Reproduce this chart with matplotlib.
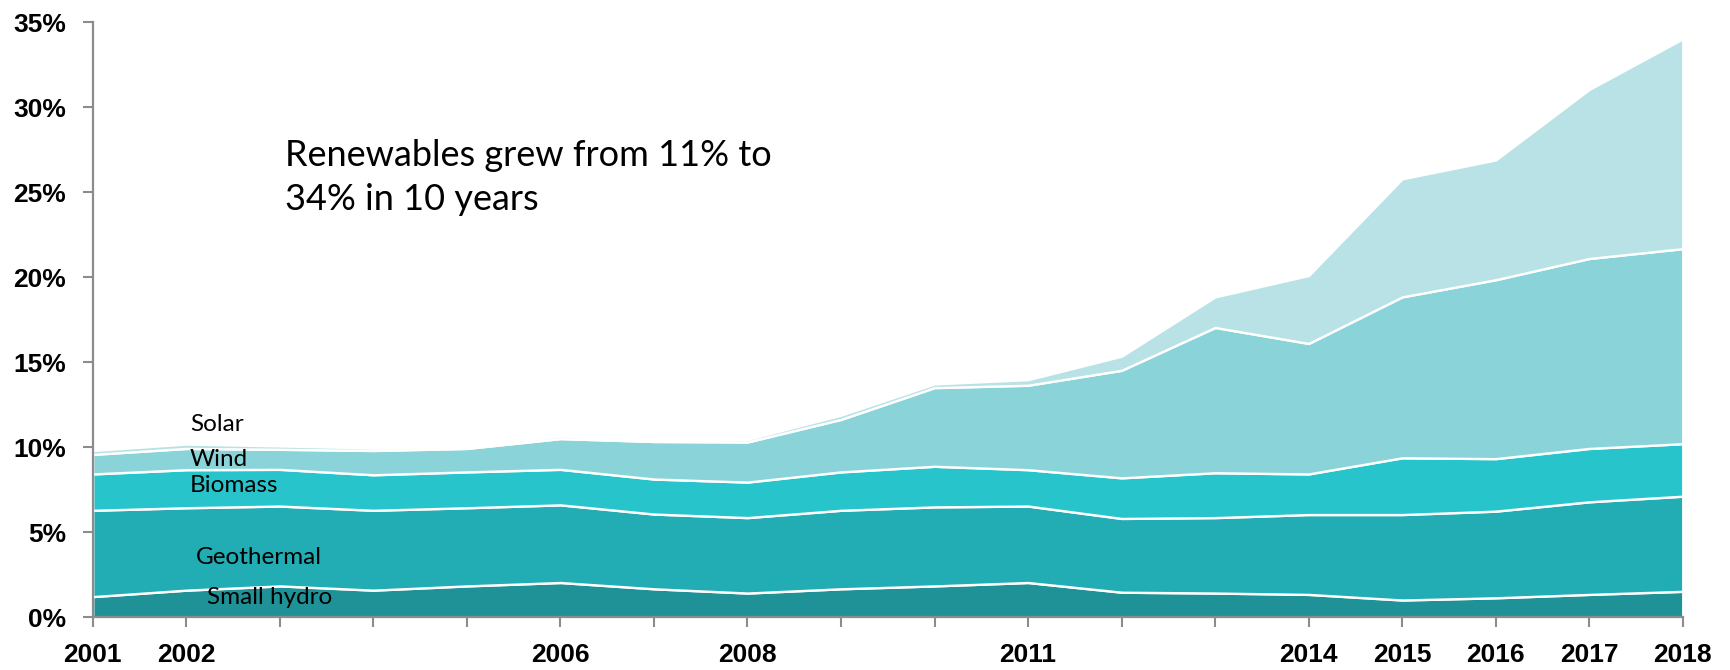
import matplotlib.pyplot as plt
from matplotlib.ticker import FuncFormatter

# share of renewables by source (%)
years = list(range(2001, 2019))
small_hydro = [1.20, 1.58, 1.83, 1.58, 1.83, 2.03, 1.66, 1.41, 1.66, 1.83, 2.03, 1.46, 1.41, 1.33, 1.00, 1.13, 1.33, 1.51]
geothermal = [5.08, 4.85, 4.70, 4.70, 4.60, 4.57, 4.40, 4.44, 4.62, 4.65, 4.50, 4.34, 4.44, 4.70, 5.03, 5.10, 5.45, 5.60]
biomass = [2.14, 2.24, 2.16, 2.09, 2.11, 2.09, 2.06, 2.09, 2.26, 2.39, 2.14, 2.39, 2.64, 2.39, 3.34, 3.09, 3.14, 3.09]
wind = [1.15, 1.25, 1.18, 1.43, 1.38, 1.81, 2.21, 2.36, 3.09, 4.63, 4.97, 6.33, 8.55, 7.68, 9.47, 10.53, 11.18, 11.48]
solar = [0.23, 0.26, 0.20, 0.15, 0.13, 0.15, 0.12, 0.15, 0.25, 0.22, 0.33, 0.83, 1.80, 4.00, 6.95, 7.05, 9.95, 12.35]

x_labels = ['2001', '2002', '', '', '', '2006', '', '2008', '', '',
            '2011', '', '', '2014', '2015', '2016', '2017', '2018']
colors = ['#1e9297', '#22acb3', '#27c4cb', '#8ad4d9', '#b8e2e5']

fig = plt.figure(figsize=(17.3, 6.7), dpi=100)
ax = fig.add_axes([0.0536, 0.0791, 0.9191, 0.8876])

ax.stackplot(years, small_hydro, geothermal, biomass, wind, solar,
             colors=colors, edgecolor='white', linewidth=1.7)

ax.set_xlim(2001, 2018)
ax.set_ylim(0, 35)
ax.set_xticks(years)
ax.set_xticklabels(x_labels)
ax.set_yticks(range(0, 36, 5))
ax.yaxis.set_major_formatter(FuncFormatter(lambda v, p: f'{v:.0f}%'))

for lbl in ax.get_xticklabels() + ax.get_yticklabels():
    lbl.set_fontfamily('Liberation Sans')
    lbl.set_fontweight('bold')
    lbl.set_fontsize(19)

grey = '#8c8c8c'
for side in ['top', 'right']:
    ax.spines[side].set_visible(False)
for side in ['left', 'bottom']:
    ax.spines[side].set_color(grey)
    ax.spines[side].set_linewidth(1.6)
    ax.spines[side].set_zorder(5)
ax.tick_params(axis='both', direction='out', length=7, width=1.5, color=grey, pad=12)

label_font = dict(family='Lato', fontsize=17.5, color='black')
ax.text(2002.04, 10.94, 'Solar', **label_font)
ax.text(2002.04, 8.88, 'Wind', **label_font)
ax.text(2002.04, 7.35, 'Biomass', **label_font)
ax.text(2002.10, 3.12, 'Geothermal', **label_font)
ax.text(2002.22, 0.76, 'Small hydro', **label_font)

ax.text(2003.06, 23.94, 'Renewables grew from 11% to\n34% in 10 years',
        family='Lato', fontsize=26, linespacing=1.4, color='black')

fig.savefig('out.png', dpi=100)
